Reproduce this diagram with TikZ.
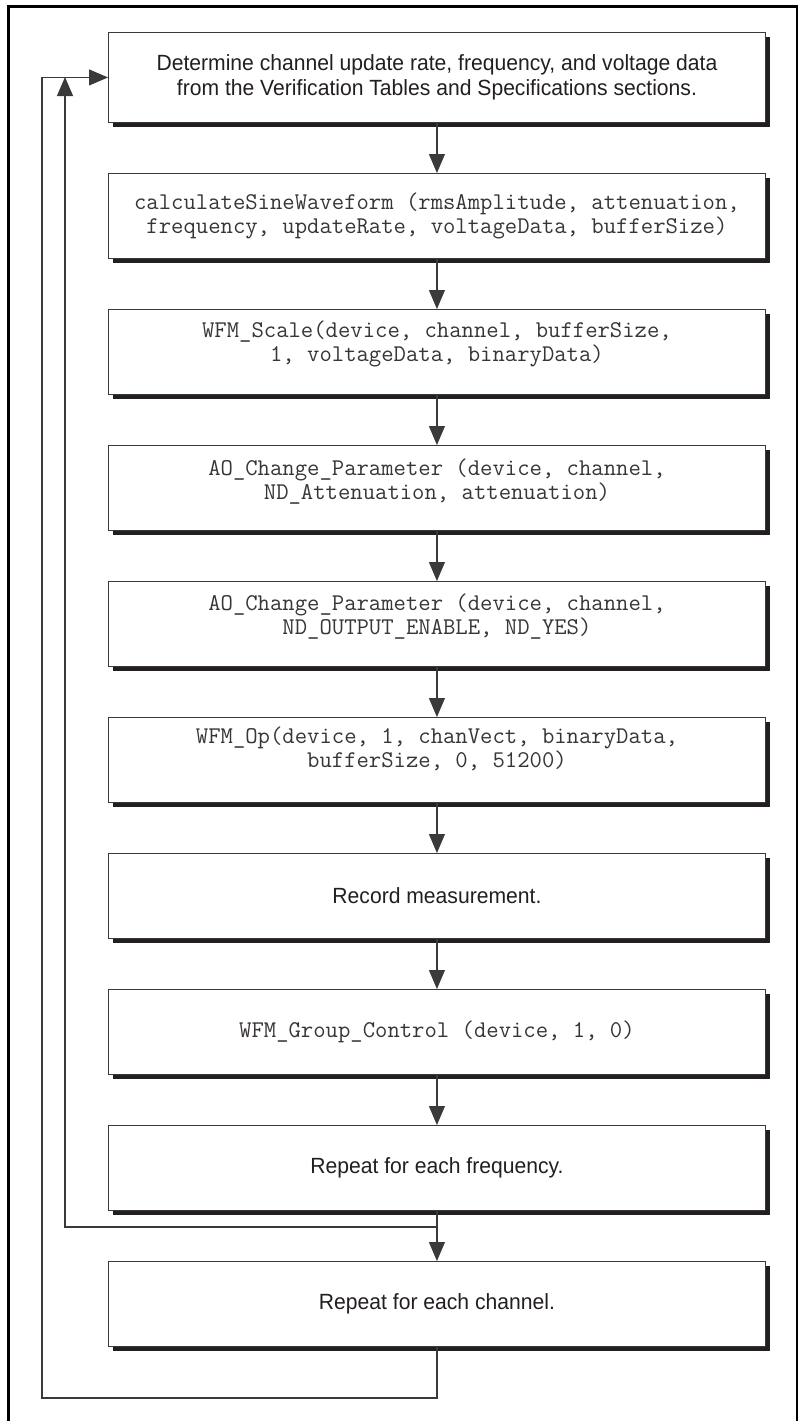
\documentclass[tikz,border=0pt]{standalone}
\usepackage{fontspec}
\setmainfont{Liberation Sans}[FakeStretch=0.96]
\setmonofont{Latin Modern Mono}
\usetikzlibrary{arrows.meta,shadows}
\definecolor{ink}{HTML}{231F20}
\definecolor{lineg}{HTML}{3A3A3A}
\begin{document}
\begin{tikzpicture}[x=1pt,y=-1pt,
  stepbox/.style={draw=lineg, line width=0.9pt, fill=white, anchor=north west,
    minimum width=657pt, minimum height=85pt, inner sep=0pt,
    drop shadow={shadow xshift=4.5pt, shadow yshift=-4.5pt, opacity=1, fill=ink}},
  sanstxt/.style={text=ink, align=center, inner sep=0pt, font=\fontsize{22}{25}\selectfont},
  codetxt/.style={text=ink!90, align=center, inner sep=0pt, font=\fontsize{24}{24}\selectfont\ttfamily},
  arr/.style={draw=lineg, line width=1.1pt, -{Triangle[length=19pt,width=16pt]}},
  ln/.style={draw=lineg, line width=1.1pt}]
\useasboundingbox (0,0) rectangle (800,1421);
\fill[white] (0,0) rectangle (800,1421);
% outer frame (open at bottom)
\draw[black, line width=2.6pt] (8.5,1421) -- (8.5,6.5) -- (797,6.5) -- (797,1421);

% boxes
\node[stepbox, minimum height=90pt] (b1) at (108,32) {};
\node[stepbox] (b2) at (108,173) {};
\node[stepbox] (b3) at (108,309) {};
\node[stepbox] (b4) at (108,445) {};
\node[stepbox] (b5) at (108,581) {};
\node[stepbox] (b6) at (108,717) {};
\node[stepbox] (b7) at (108,853) {};
\node[stepbox] (b8) at (108,989) {};
\node[stepbox] (b9) at (108,1125) {};
\node[stepbox] (b10) at (108,1261) {};

% texts
\node[sanstxt] (t1) at (b1.center) {Determine channel update rate, frequency, and voltage data\\from the Verification Tables and Specifications sections.};
\node[codetxt] (t2) at (b2.center) {calculateSineWaveform (rmsAmplitude, attenuation,\\frequency, updateRate, voltageData, bufferSize)};
\node[codetxt, yshift=8pt] (t3) at (b3.center) {WFM\_Scale(device, channel, bufferSize,\\1, voltageData, binaryData)};
\node[codetxt, yshift=6pt] (t4) at (b4.center) {AO\_Change\_Parameter (device, channel,\\ND\_Attenuation, attenuation)};
\node[codetxt, yshift=7pt] (t5) at (b5.center) {AO\_Change\_Parameter (device, channel,\\ND\_OUTPUT\_ENABLE, ND\_YES)};
\node[codetxt, yshift=11pt] (t6) at (b6.center) {WFM\_Op(device, 1, chanVect, binaryData,\\bufferSize, 0, 51200)};
\node[sanstxt] (t7) at (b7.center) {Record measurement.};
\node[codetxt] (t8) at (b8.center) {WFM\_Group\_Control (device, 1, 0)};
\node[sanstxt] (t9) at (b9.center) {Repeat for each frequency.};
\node[sanstxt] (t10) at (b10.center) {Repeat for each channel.};

% straight connectors
\draw[arr] (b1.south) -- (b2.north);
\draw[arr] (b2.south) -- (b3.north);
\draw[arr] (b3.south) -- (b4.north);
\draw[arr] (b4.south) -- (b5.north);
\draw[arr] (b5.south) -- (b6.north);
\draw[arr] (b6.south) -- (b7.north);
\draw[arr] (b7.south) -- (b8.north);
\draw[arr] (b8.south) -- (b9.north);
\draw[arr] (b9.south) -- (b10.north);

% loops
\coordinate (j1) at (436.5,1227);
\coordinate (l1) at (65,77);
\coordinate (o1) at (42,1398);
\draw[arr] (j1) -| (l1);
\draw[arr] (b10.south) |- (o1) |- (b1.west);
\end{tikzpicture}
\end{document}
